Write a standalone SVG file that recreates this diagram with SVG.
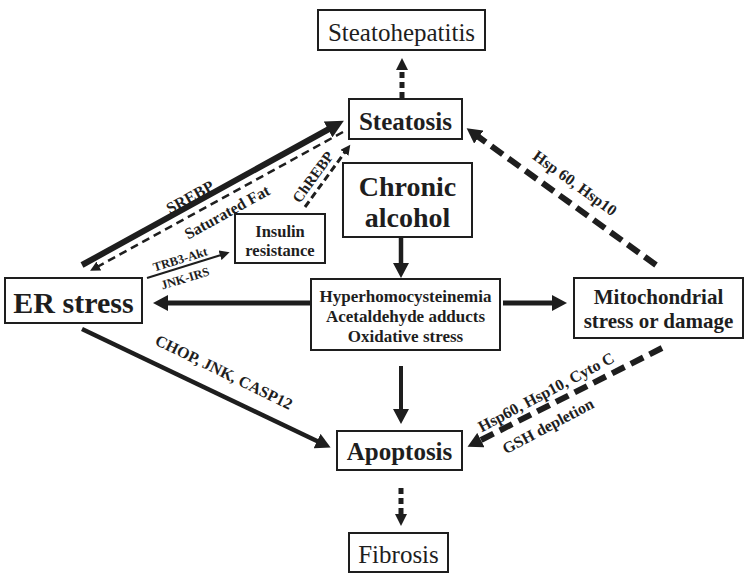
<svg xmlns="http://www.w3.org/2000/svg" width="750" height="584" viewBox="0 0 750 584">
<style>
.box{fill:#fff;stroke:#1e1e1e;stroke-width:2}
text{font-family:"Liberation Serif","Times New Roman",serif;fill:#1e1e1e;text-anchor:middle}
.b{font-weight:bold}
.ln{fill:none;stroke:#1e1e1e}
</style>
<defs>
<marker id="hBig" markerUnits="userSpaceOnUse" markerWidth="16" markerHeight="16" refX="1" refY="8" orient="auto"><path d="M0,0 L15,8 L0,16 z" fill="#1e1e1e"/></marker>
<marker id="hHuge" markerUnits="userSpaceOnUse" markerWidth="19" markerHeight="18" refX="1" refY="9" orient="auto"><path d="M0,0 L18,9 L0,18 z" fill="#1e1e1e"/></marker>
<marker id="hMed" markerUnits="userSpaceOnUse" markerWidth="13" markerHeight="12" refX="1" refY="6" orient="auto"><path d="M0,0 L12,6 L0,12 z" fill="#1e1e1e"/></marker>
<marker id="hSmall" markerUnits="userSpaceOnUse" markerWidth="11" markerHeight="10" refX="1" refY="5" orient="auto"><path d="M0,0 L10,5 L0,10 z" fill="#1e1e1e"/></marker>
</defs>

<g id="connectors">
<!-- Steatosis -> Steatohepatitis -->
<line class="ln" x1="402" y1="98" x2="402" y2="69" stroke-width="5" stroke-dasharray="6,4" marker-end="url(#hMed)"/>
<!-- Chronic alcohol -> middle -->
<line class="ln" x1="401" y1="238" x2="401" y2="264" stroke-width="4.5" marker-end="url(#hBig)"/>
<!-- middle -> ER stress -->
<line class="ln" x1="310" y1="303" x2="167" y2="303" stroke-width="5" marker-end="url(#hBig)"/>
<!-- middle -> Mito -->
<line class="ln" x1="503" y1="303" x2="553" y2="303" stroke-width="5" marker-end="url(#hBig)"/>
<!-- middle -> Apoptosis -->
<line class="ln" x1="401" y1="366" x2="401" y2="410" stroke-width="4" marker-end="url(#hBig)"/>
<!-- Apoptosis -> Fibrosis -->
<line class="ln" x1="401" y1="488" x2="401" y2="515" stroke-width="5" stroke-dasharray="6,4" marker-end="url(#hMed)"/>
<!-- ER stress -> Apoptosis -->
<line class="ln" x1="82" y1="329" x2="318" y2="441.5" stroke-width="4.5" marker-end="url(#hBig)"/>
<!-- Mito -> Apoptosis -->
<line class="ln" x1="662" y1="348" x2="480" y2="440.5" stroke-width="6" stroke-dasharray="14,7" marker-end="url(#hBig)"/>
<!-- Mito -> Steatosis -->
<line class="ln" x1="656" y1="265" x2="478" y2="136.5" stroke-width="6" stroke-dasharray="14,7" marker-end="url(#hBig)"/>
<!-- ER stress -> Steatosis (SREBP) -->
<line class="ln" x1="82" y1="265" x2="329" y2="129" stroke-width="6" marker-end="url(#hHuge)"/>
<!-- Steatosis -> ER stress (Saturated Fat) -->
<line class="ln" x1="343" y1="132" x2="98" y2="266.5" stroke-width="2.5" stroke-dasharray="8,5" marker-end="url(#hSmall)"/>
<!-- Insulin resistance -> Steatosis (ChREBP) -->
<line class="ln" x1="305" y1="207" x2="345" y2="152" stroke-width="3" stroke-dasharray="7,4" marker-end="url(#hSmall)"/>
<!-- ER stress -> Insulin resistance -->
<line class="ln" x1="147" y1="278" x2="221" y2="255" stroke-width="2" marker-end="url(#hSmall)"/>

<text class="b" font-size="16" transform="translate(190,197) rotate(-29)" y="5.5">SREBP</text>
<text class="b" font-size="16" transform="translate(227,212) rotate(-29)" y="5.5">Saturated Fat</text>
<text class="b" font-size="15" transform="translate(313,177) rotate(-54)" y="5">ChREBP</text>
<text class="b" font-size="12.5" transform="translate(180,259) rotate(-17)" y="4.5">TRB3-Akt</text>
<text class="b" font-size="12.5" transform="translate(185,278) rotate(-17)" y="4.5">JNK-IRS</text>
<text class="b" font-size="16" transform="translate(224,372) rotate(26)" y="5.5">CHOP, JNK, CASP12</text>
<text class="b" font-size="16" transform="translate(575,183) rotate(36)" y="5.5">Hsp 60, Hsp10</text>
<text class="b" font-size="16" transform="translate(546,392) rotate(-28)" y="5.5">Hsp60, Hsp10, Cyto C</text>
<text class="b" font-size="16" transform="translate(548,426) rotate(-28)" y="5.5">GSH depletion</text>
</g>

<g id="steatohepatitis">
<rect class="box" x="318" y="10" width="167" height="40"/>
<text x="401.5" y="41" font-size="25">Steatohepatitis</text>
</g>
<g id="steatosis">
<rect class="box" x="349" y="99" width="113" height="40"/>
<text class="b" x="405.5" y="130" font-size="25">Steatosis</text>
</g>
<g id="chronic-alcohol">
<rect class="box" x="343" y="163" width="129" height="74"/>
<text class="b" x="407.5" y="196" font-size="28">Chronic</text>
<text class="b" x="407.5" y="227" font-size="28">alcohol</text>
</g>
<g id="insulin-resistance">
<rect class="box" x="235" y="214" width="90" height="49"/>
<text class="b" x="280" y="237" font-size="16.5">Insulin</text>
<text class="b" x="280" y="256" font-size="16.5">resistance</text>
</g>
<g id="er-stress">
<rect class="box" x="5" y="278" width="137" height="45"/>
<text class="b" x="73.5" y="313" font-size="30">ER stress</text>
</g>
<g id="mediators">
<rect class="box" x="311" y="279" width="189" height="71"/>
<text class="b" x="405.5" y="302" font-size="17">Hyperhomocysteinemia</text>
<text class="b" x="405.5" y="322" font-size="17">Acetaldehyde adducts</text>
<text class="b" x="405.5" y="342" font-size="17">Oxidative stress</text>
</g>
<g id="mitochondrial">
<rect class="box" x="574" y="278" width="169" height="60"/>
<text class="b" x="658.5" y="304" font-size="21">Mitochondrial</text>
<text class="b" x="658.5" y="328" font-size="21">stress or damage</text>
</g>
<g id="apoptosis">
<rect class="box" x="337" y="431" width="125" height="39"/>
<text class="b" x="399.5" y="460" font-size="25">Apoptosis</text>
</g>
<g id="fibrosis">
<rect class="box" x="349" y="533" width="99" height="39"/>
<text x="398.5" y="563" font-size="25">Fibrosis</text>
</g>
</svg>
